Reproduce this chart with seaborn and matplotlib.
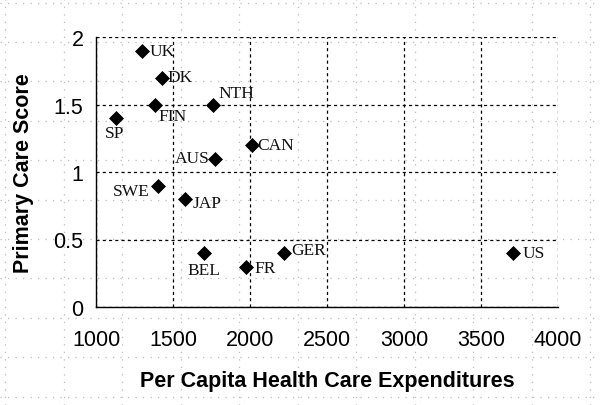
import matplotlib
matplotlib.use("Agg")
import matplotlib.pyplot as plt
import seaborn as sns
import pandas as pd
import numpy as np

countries = ["UK", "DK", "FIN", "SP", "NTH", "CAN", "AUS", "SWE", "JAP", "BEL", "FR", "GER", "US"]
expenditures = [1300, 1430, 1385, 1130, 1760, 2010, 1775, 1405, 1580, 1700, 1975, 2220, 3710]
scores = [1.9, 1.7, 1.5, 1.4, 1.5, 1.2, 1.1, 0.9, 0.8, 0.4, 0.3, 0.4, 0.4]
x_ticks = [1000, 1500, 2000, 2500, 3000, 3500, 4000]
y_ticks = [0, 0.5, 1, 1.5, 2]
y_tick_labels = ["0", "0.5", "1", "1.5", "2"]

# label offsets in points (dx, dy) and alignment
label_style = {
    "UK": (5, 0, "left", "center"),
    "DK": (4, 0, "left", "center"),
    "FIN": (2, -8, "left", "center"),
    "SP": (-1, -11, "center", "center"),
    "NTH": (4, 8, "left", "center"),
    "CAN": (4, 0, "left", "center"),
    "AUS": (-4, 0, "right", "center"),
    "SWE": (-6, -4, "right", "center"),
    "JAP": (5, -3, "left", "center"),
    "BEL": (0, -12, "center", "center"),
    "FR": (6, -1, "left", "center"),
    "GER": (5, 2, "left", "center"),
    "US": (7, 0, "left", "center"),
}

df = pd.DataFrame({"country": countries, "exp": expenditures, "score": scores})

sns.set_theme(style="white")
plt.rcParams["font.family"] = ["Liberation Sans", "DejaVu Sans"]

fig = plt.figure(figsize=(6.0, 4.06), dpi=100)

# faint dotted background pattern
bg = fig.add_axes([0, 0, 1, 1], zorder=0)
bg.set_xlim(0, 600)
bg.set_ylim(406, 0)
bg.axis("off")
for xv in np.arange(5, 600, 58.5):
    bg.axvline(xv, color="#bdbdbd", lw=0.9, ls=(0, (1, 5)))
for yv in np.arange(3.6, 406, 39.4):
    bg.axhline(yv, color="#bdbdbd", lw=0.9, ls=(0, (1, 5)))

ax = fig.add_axes([96 / 600, 1 - 308 / 406, (558 - 96) / 600, (308 - 38) / 406], zorder=1)
ax.set_facecolor("none")

sns.scatterplot(data=df, x="exp", y="score", marker="D", s=50, color="black",
                edgecolor="black", ax=ax, zorder=3, legend=False)

for c, xv, yv in zip(countries, expenditures, scores):
    dx, dy, ha, va = label_style[c]
    ax.annotate(c, (xv, yv), xytext=(dx, dy), textcoords="offset points",
                ha=ha, va=va, fontsize=12.5, family="Liberation Serif", color="#111111")

ax.set_xlim(1000, 4000)
ax.set_ylim(0, 2)
ax.set_xticks(x_ticks)
ax.set_yticks(y_ticks)
ax.set_yticklabels(y_tick_labels)
ax.grid(True, color="black", ls=(0, (2.5, 2.5)), lw=0.9)
for s in ["top", "right"]:
    ax.spines[s].set_visible(False)
for s in ["left", "bottom"]:
    ax.spines[s].set_color("black")
    ax.spines[s].set_linewidth(1.0)
ax.tick_params(axis="both", which="major", length=5, width=1, color="black",
               direction="out", labelsize=15.5, labelcolor="black", pad=4)
ax.tick_params(axis="x", direction="inout", length=8, pad=12)
ax.set_xlabel("Per Capita Health Care Expenditures", fontsize=15.5, fontweight="bold",
              color="black", labelpad=14)
ax.set_ylabel("Primary Care Score", fontsize=15.5, fontweight="bold", color="black",
              labelpad=14)

fig.savefig("out.png", dpi=100)
